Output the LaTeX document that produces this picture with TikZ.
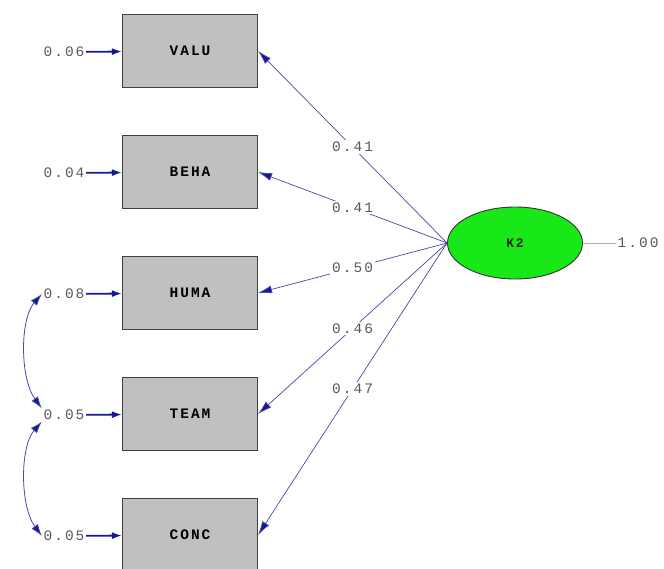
\documentclass[tikz,border=0pt]{standalone}
\usepackage{fontspec}
\usetikzlibrary{arrows.meta,shapes.geometric}
\newfontfamily\lisfont[LetterSpace=14]{Liberation Mono}
\definecolor{pathblue}{RGB}{72,72,172}
\definecolor{tipblue}{RGB}{22,22,150}
\definecolor{boxgray}{RGB}{192,192,192}
\definecolor{latgreen}{RGB}{24,232,24}

\tikzset{
  obsbox/.style={draw=black!75, fill=boxgray, line width=1.1pt,
    minimum width=135pt, minimum height=73pt,
    font=\lisfont\bfseries\fontsize{14.5}{14.5}\selectfont},
  latent/.style={ellipse, draw=black!80, fill=latgreen, line width=0.9pt,
    minimum width=135pt, minimum height=72pt, text=black!85,
    font=\lisfont\bfseries\fontsize{13}{13}\selectfont},
  numlab/.style={inner sep=1.5pt, text=black!65,
    font=\lisfont\fontsize{14.5}{14.5}\selectfont},
  loadlab/.style={numlab, fill=white, inner sep=2pt},
  errarrow/.style={draw=tipblue, line width=1.8pt,
    -{Latex[length=10pt,width=7pt]}},
  load/.style={draw=pathblue, line width=0.7pt,
    -{Latex[length=14pt,width=8pt,fill=tipblue]}},
  cov/.style={draw=pathblue, line width=0.8pt,
    {Latex[length=12pt,width=8pt,fill=tipblue]}-{Latex[length=12pt,width=8pt,fill=tipblue]}}
}

\begin{document}
\begin{tikzpicture}[x=1pt,y=-1pt]
  \useasboundingbox (0,0) rectangle (664,568);

  % observed variables
  \node[obsbox] (V) at (190,51) {VALU};
  \node[obsbox] (B) at (190,172) {BEHA};
  \node[obsbox] (H) at (190,293) {HUMA};
  \node[obsbox] (T) at (190,414) {TEAM};
  \node[obsbox] (C) at (190,535) {CONC};

  % error variances
  \node[numlab] (eV) at (64,52) {0.06};
  \node[numlab] (eB) at (64,173) {0.04};
  \node[numlab] (eH) at (64,294) {0.08};
  \node[numlab] (eT) at (64,415) {0.05};
  \node[numlab] (eC) at (64,536) {0.05};
  \draw[errarrow] (eV) -- (V);
  \draw[errarrow] (eB) -- (B);
  \draw[errarrow] (eH) -- (H);
  \draw[errarrow] (eT) -- (T);
  \draw[errarrow] (eC) -- (C);

  % latent variable
  \node[latent] (K) at (515,243) {K2};
  \node[numlab, anchor=west] (vK) at (616,243) {1.00};
  \draw[black!30, line width=0.8pt] (K.east) -- (vK.west);

  % loadings
  \draw[load] (K.west) -- node[loadlab] {0.41} (V.east);
  \draw[load] (K.west) -- node[loadlab] {0.41} (B.east);
  \draw[load] (K.west) -- node[loadlab] {0.50} (H.east);
  \draw[load] (K.west) -- node[loadlab] {0.46} (T.east);
  \draw[load] (K.west) -- node[loadlab] {0.47} (C.east);

  % error covariances
  \draw[cov] (eH.west) .. controls +(-22,25) and +(-22,-30) .. (eT.north west);
  \draw[cov] (eT.south west) .. controls +(-22,25) and +(-22,-30) .. (eC.west);
\end{tikzpicture}
\end{document}
